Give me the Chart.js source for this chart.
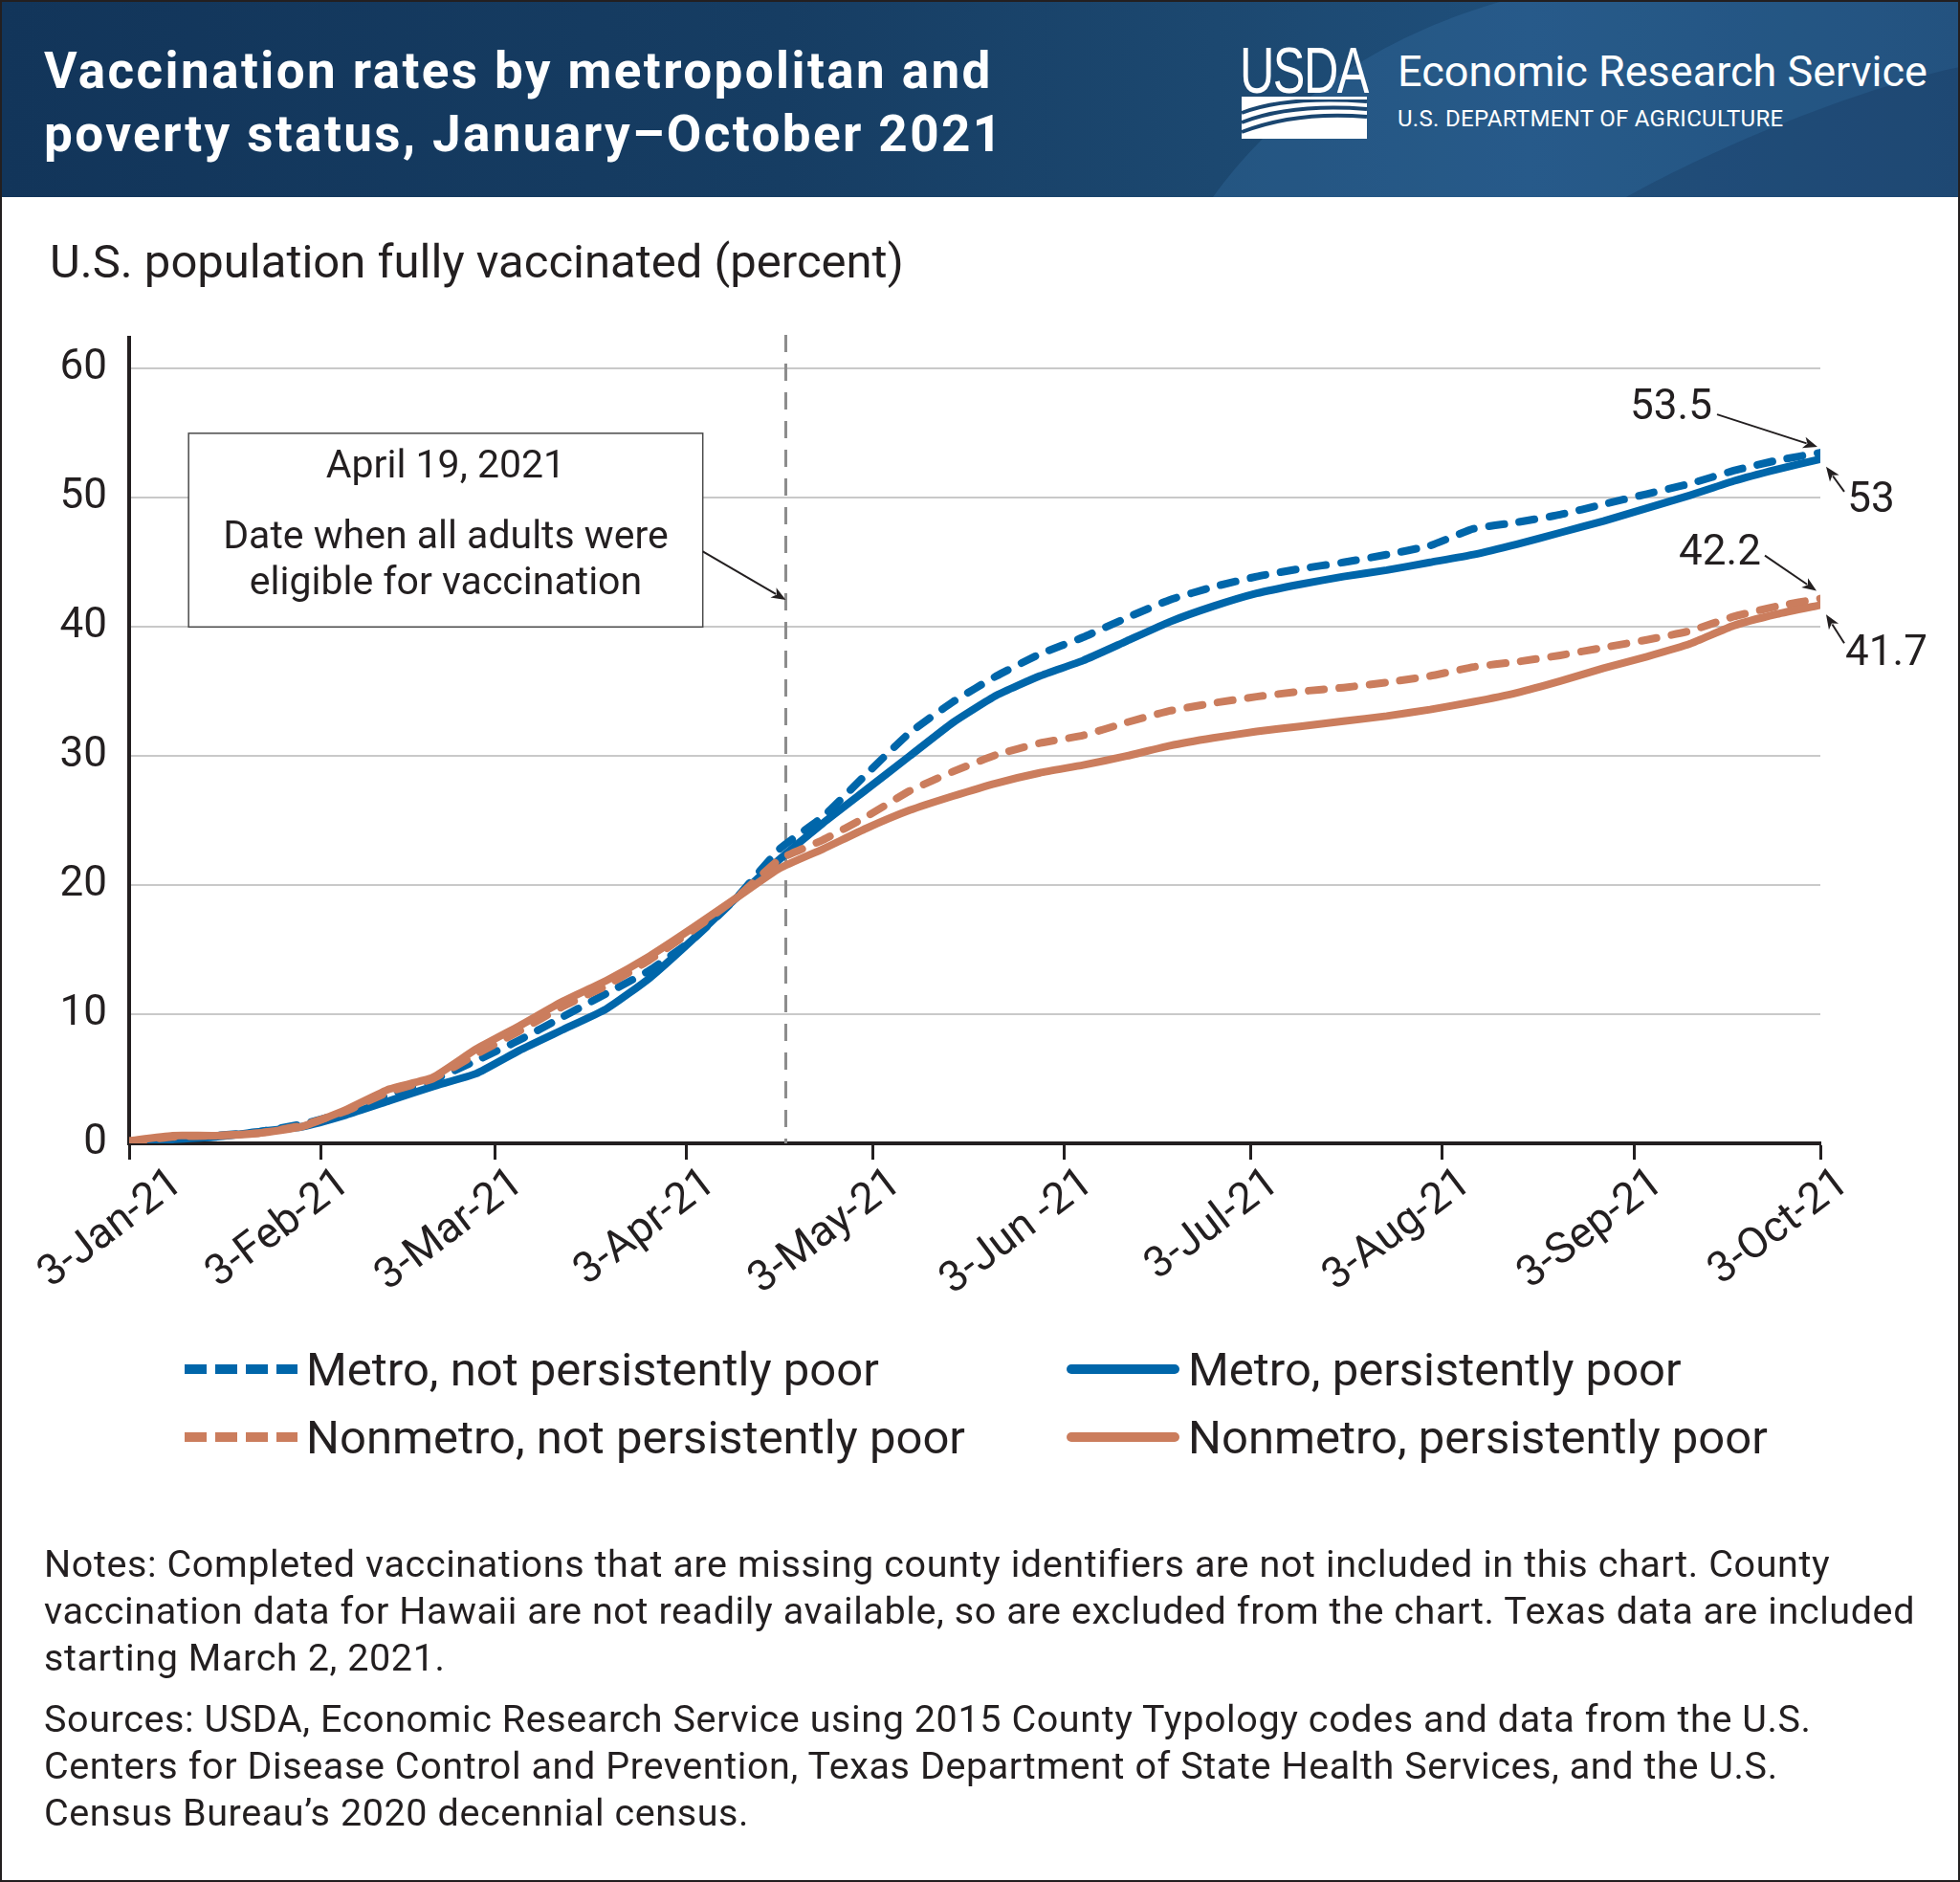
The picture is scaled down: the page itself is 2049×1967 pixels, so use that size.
<!DOCTYPE html>
<html>
<head>
<meta charset="utf-8">
<title>Vaccination rates by metropolitan and poverty status</title>
<script src="https://cdn.jsdelivr.net/npm/chart.js@4.4.1/dist/chart.umd.min.js"></script>
<style>
  html, body { margin: 0; padding: 0; background: #fff; }
  body {
    width: 2049px; height: 1967px; position: relative; overflow: hidden;
    font-family: Roboto, "Liberation Sans", sans-serif; color: #231f20;
  }
  #chart { position: absolute; left: 0; top: 0; }
  #frame {
    position: absolute; left: 0; top: 0; width: 2045px; height: 1963px;
    border: 2px solid #231f20; pointer-events: none;
  }
  #header {
    position: absolute; left: 0; top: 0; width: 2049px; height: 206px; overflow: hidden;
    background: linear-gradient(90deg, #12355a 0%, #163d63 40%, #1c4870 62%, #1f4f7b 78%, #1a456e 100%);
  }
  #header svg { position: absolute; left: 0; top: 0; }
  .title {
    position: absolute; left: 46px; color: #fff; font-weight: 700;
    font-size: 53px; line-height: 66px; white-space: nowrap; letter-spacing: 2.4px;
  }
  #usda {
    position: absolute; left: 1296px; top: 38px; color: #fff;
    font-family: "Liberation Sans Narrow", "Liberation Sans", sans-serif;
    font-size: 68px; line-height: 70px; letter-spacing: -2px;
    transform: scaleX(0.74); transform-origin: left top;
  }
  #ers {
    position: absolute; left: 1461px; top: 47px; color: #fff;
    font-size: 45px; line-height: 56px; white-space: nowrap;
  }
  #dept {
    position: absolute; left: 1461px; top: 110px; color: #fff;
    font-size: 24px; line-height: 28px; white-space: nowrap; letter-spacing: 0.3px;
  }
  #ytitle {
    position: absolute; left: 52px; top: 244px; font-size: 49px; line-height: 60px; white-space: nowrap;
  }
  .leg {
    position: absolute; height: 60px; display: flex; align-items: center;
    font-size: 49px; white-space: nowrap;
  }
  .leg .swatch { width: 118px; height: 10px; margin-right: 9px; flex: none; }
  #notes {
    position: absolute; left: 46px; top: 1610px; font-size: 39.5px; line-height: 49px;
    white-space: nowrap; letter-spacing: 0.6px;
  }
  #notes p { margin: 0 0 15px 0; }
</style>
</head>
<body>
<canvas id="chart" width="2049" height="1967"></canvas>

<div id="header">
  <svg width="2049" height="206">
    <path d="M1268 206 C 1330 120, 1430 40, 1575 0 L 2049 0 L 2049 206 Z" fill="rgba(70,130,190,0.22)"/>
    <path d="M1700 206 C 1800 150, 1950 90, 2049 70 L 2049 206 Z" fill="rgba(10,30,60,0.18)"/>
    <rect x="1298" y="101" width="131" height="44" fill="#fff"/>
    <path d="M1298 118 Q1345 100 1429 106" stroke="#1a4670" stroke-width="4" fill="none"/>
    <path d="M1298 128 Q1350 108 1429 114" stroke="#1a4670" stroke-width="4" fill="none"/>
    <path d="M1298 138 Q1355 116 1429 122" stroke="#1a4670" stroke-width="4" fill="none"/>
    <rect x="1298" y="101" width="131" height="3" fill="#fff"/>
  </svg>
  <div class="title" style="top:41px">Vaccination rates by metropolitan and</div>
  <div class="title" style="top:107px">poverty status, January–October 2021</div>
  <div id="usda">USDA</div>
  <div id="ers">Economic Research Service</div>
  <div id="dept">U.S. DEPARTMENT OF AGRICULTURE</div>
</div>

<div id="ytitle">U.S. population fully vaccinated (percent)</div>

<div id="legend"></div>

<div id="notes">
  <p>Notes: Completed vaccinations that are missing county identifiers are not included in this chart. County<br>
  vaccination data for Hawaii are not readily available, so are excluded from the chart. Texas data are included<br>
  starting March 2, 2021.</p>
  <p>Sources: USDA, Economic Research Service using 2015 County Typology codes and data from the U.S.<br>
  Centers for Disease Control and Prevention, Texas Department of State Health Services, and the U.S.<br>
  Census Bureau’s 2020 decennial census.</p>
</div>

<div id="frame"></div>

<script>
// days since 3-Jan-21, weekly
const days = [0, 7, 14, 21, 28, 35, 42, 49, 56, 63, 70, 77, 84, 91, 98, 105, 112, 119, 126, 133,
  140, 147, 154, 161, 168, 175, 182, 189, 196, 203, 210, 217, 224, 231, 238, 245, 252, 259, 266, 273];

const tickDays = [0, 31, 59, 90, 120, 151, 181, 212, 243, 273];
const tickLabels = ["3-Jan-21", "3-Feb-21", "3-Mar-21", "3-Apr-21", "3-May-21",
  "3-Jun -21", "3-Jul-21", "3-Aug-21", "3-Sep-21", "3-Oct-21"];
const yTicks = [0, 10, 20, 30, 40, 50, 60];

const eligibleDay = 106; // April 19, 2021

const seriesNames = ["Metro, not persistently poor", "Metro, persistently poor",
  "Nonmetro, not persistently poor", "Nonmetro, persistently poor"];

const metroNotPoor = [0, 0.4, 0.6, 0.9, 1.5, 2.4, 3.8, 4.9, 6.4, 8.0, 9.8, 11.6, 13.4, 15.8, 19.0, 22.8,
  25.3, 28.6, 31.8, 34.2, 36.2, 37.9, 39.2, 40.7, 42.1, 43.1, 43.9, 44.5, 45.0, 45.6,
  46.3, 47.6, 48.1, 48.7, 49.5, 50.3, 51.1, 52.1, 52.9, 53.5];
const metroPoor = [0, 0.3, 0.5, 0.9, 1.3, 2.2, 3.3, 4.4, 5.4, 7.2, 8.8, 10.4, 12.8, 15.8, 19.0, 22.0,
  24.8, 27.4, 30.0, 32.6, 34.7, 36.2, 37.4, 38.9, 40.4, 41.6, 42.6, 43.3, 43.9, 44.4,
  45.0, 45.6, 46.4, 47.3, 48.2, 49.2, 50.2, 51.3, 52.2, 53.0];
const nonmetroNotPoor = [0.1, 0.5, 0.6, 0.8, 1.4, 2.5, 4.0, 5.0, 6.9, 8.7, 10.6, 12.2, 14.2, 16.5, 19.0, 22.0,
  23.5, 25.3, 27.3, 28.8, 30.1, 31.0, 31.6, 32.6, 33.5, 34.1, 34.6, 35.0, 35.3, 35.7,
  36.2, 36.9, 37.3, 37.8, 38.4, 39.0, 39.7, 40.8, 41.6, 42.2];
const nonmetroPoor = [0.2, 0.6, 0.6, 0.8, 1.3, 2.6, 4.2, 5.1, 7.3, 9.1, 11.0, 12.6, 14.5, 16.7, 19.0, 21.3,
  22.8, 24.4, 25.8, 26.9, 27.9, 28.7, 29.3, 30.0, 30.8, 31.4, 31.9, 32.3, 32.7, 33.1,
  33.6, 34.2, 34.9, 35.8, 36.8, 37.7, 38.7, 40.1, 41.0, 41.7];

const BLUE = "#0066aa";
const ORANGE = "#cb7d5d";
const INK = "#231f20";
const FONT = "Roboto, 'Liberation Sans', sans-serif";

const styles = [
  { color: BLUE, dashed: true, order: 2 },
  { color: BLUE, dashed: false, order: 3 },
  { color: ORANGE, dashed: true, order: 1 },
  { color: ORANGE, dashed: false, order: 0 },
];
const seriesValues = [metroNotPoor, metroPoor, nonmetroNotPoor, nonmetroPoor];

// callout label / arrow offsets from each series' last point, in px
const callouts = [
  { label: [-156, -46], from: [-108, -40], to: [-3, -6] },
  { label: [53, 44], from: [25, 34], to: [6, 8] },
  { label: [-105, -47], from: [-58, -45], to: [-4, -8] },
  { label: [69, 52], from: [25, 40], to: [6, 10] },
];

function drawArrow(ctx, x1, y1, x2, y2) {
  const a = Math.atan2(y2 - y1, x2 - x1);
  const head = 15, half = 6;
  const bx = x2 - head * Math.cos(a), by = y2 - head * Math.sin(a);
  ctx.beginPath();
  ctx.moveTo(x1, y1);
  ctx.lineTo(bx + 3 * Math.cos(a), by + 3 * Math.sin(a));
  ctx.stroke();
  ctx.beginPath();
  ctx.moveTo(x2, y2);
  ctx.lineTo(bx + half * Math.sin(a), by - half * Math.cos(a));
  ctx.lineTo(bx + 4 * Math.cos(a), by + 4 * Math.sin(a));
  ctx.lineTo(bx - half * Math.sin(a), by + half * Math.cos(a));
  ctx.closePath();
  ctx.fill();
}

const eligibleLine = {
  id: "eligibleLine",
  beforeDatasetsDraw(chart) {
    const { ctx, chartArea, scales } = chart;
    const x = scales.x.getPixelForValue(eligibleDay);
    ctx.save();
    ctx.strokeStyle = "#8c8c8c";
    ctx.lineWidth = 3;
    ctx.setLineDash([18, 12]);
    ctx.beginPath();
    ctx.moveTo(x, chartArea.top - 3);
    ctx.lineTo(x, chartArea.bottom);
    ctx.stroke();
    ctx.restore();
  },
};

const annotations = {
  id: "annotations",
  afterDatasetsDraw(chart) {
    const { ctx, scales } = chart;
    const xs = scales.x, ys = scales.y;
    ctx.save();
    ctx.fillStyle = INK;
    ctx.strokeStyle = INK;
    ctx.lineWidth = 2;

    // explanation box
    const bl = xs.getPixelForValue(9.6), br = xs.getPixelForValue(92.6);
    const bt = ys.getPixelForValue(55), bb = ys.getPixelForValue(40);
    ctx.save();
    ctx.fillStyle = "#fff";
    ctx.fillRect(bl, bt, br - bl, bb - bt);
    ctx.strokeStyle = "#4a4a4a";
    ctx.lineWidth = 1.5;
    ctx.strokeRect(bl, bt, br - bl, bb - bt);
    ctx.restore();
    ctx.textAlign = "center";
    ctx.textBaseline = "middle";
    ctx.font = "41px " + FONT;
    const bc = (bl + br) / 2;
    ctx.fillText("April 19, 2021", bc, bt + 36);
    ctx.fillText("Date when all adults were", bc, bt + 110);
    ctx.fillText("eligible for vaccination", bc, bt + 158);
    drawArrow(ctx, br, ys.getPixelForValue(45.85), xs.getPixelForValue(eligibleDay), ys.getPixelForValue(42.1));

    // end-value callouts
    ctx.font = "44px " + FONT;
    const lastDay = days[days.length - 1];
    seriesValues.forEach((vals, i) => {
      const v = vals[vals.length - 1];
      const ex = xs.getPixelForValue(lastDay), ey = ys.getPixelForValue(v);
      const c = callouts[i];
      ctx.fillText(String(v), ex + c.label[0], ey + c.label[1]);
      drawArrow(ctx, ex + c.from[0], ey + c.from[1], ex + c.to[0], ey + c.to[1]);
    });

    // rotated x tick labels (first one nudged right so it stays inside the frame)
    const angle = 37 * Math.PI / 180;
    ctx.textAlign = "right";
    ctx.textBaseline = "alphabetic";
    ctx.font = "45px " + FONT;
    tickDays.forEach((d, i) => {
      const w = ctx.measureText(tickLabels[i]).width;
      const ax = Math.max(xs.getPixelForValue(d) + 32, 34 + w * Math.cos(angle) + 32 * Math.sin(angle));
      const ay = chart.chartArea.bottom + 46;
      ctx.save();
      ctx.translate(ax, ay);
      ctx.rotate(-angle);
      ctx.fillText(tickLabels[i], 0, 0);
      ctx.restore();
    });
    ctx.restore();
  },
};

const ctx = document.getElementById("chart").getContext("2d");

new Chart(ctx, {
  type: "line",
  data: {
    datasets: seriesValues.map((vals, i) => ({
      label: seriesNames[i],
      data: days.map((d, j) => ({ x: d, y: vals[j] })),
      borderColor: styles[i].color,
      borderWidth: 8,
      borderDash: styles[i].dashed ? [16, 16] : [],
      borderCapStyle: "round",
      borderJoinStyle: "round",
      pointRadius: 0,
      tension: 0.15,
      order: styles[i].order,
    })),
  },
  options: {
    responsive: false,
    animation: false,
    devicePixelRatio: 1,
    layout: { padding: { left: 0, top: 353, right: 146, bottom: 755 } },
    plugins: { legend: { display: false }, tooltip: { enabled: false } },
    scales: {
      x: {
        type: "linear",
        min: 0,
        max: 273,
        afterBuildTicks: (scale) => { scale.ticks = tickDays.map((v) => ({ value: v })); },
        afterFit: (scale) => { scale.height = 17; },
        ticks: { display: false },
        grid: {
          display: true, drawOnChartArea: false, drawTicks: true,
          tickLength: 17, tickWidth: 3, tickColor: INK,
        },
        border: { display: true, color: INK, width: 4 },
      },
      y: {
        min: 0,
        max: 62.4,
        afterBuildTicks: (scale) => { scale.ticks = yTicks.map((v) => ({ value: v })); },
        afterFit: (scale) => { scale.width = 135; },
        ticks: { color: INK, padding: 23, font: { family: FONT, size: 44 } },
        grid: { color: "#c9c9c9", lineWidth: 2, drawTicks: false },
        border: { display: true, color: INK, width: 4 },
      },
    },
  },
  plugins: [eligibleLine, annotations],
});

// legend in two columns
const legendPos = [[193, 1401], [1115, 1401], [193, 1472], [1115, 1472]];
const legend = document.getElementById("legend");
seriesNames.forEach((name, i) => {
  const item = document.createElement("div");
  item.className = "leg";
  item.style.left = legendPos[i][0] + "px";
  item.style.top = legendPos[i][1] + "px";
  const sw = document.createElement("span");
  sw.className = "swatch";
  const c = styles[i].color;
  if (styles[i].dashed) {
    sw.style.background = "repeating-linear-gradient(90deg," + c + " 0 23px, transparent 23px 32px)";
  } else {
    sw.style.background = c;
    sw.style.borderRadius = "5px";
  }
  item.appendChild(sw);
  item.appendChild(document.createTextNode(name));
  legend.appendChild(item);
});
</script>
</body>
</html>
